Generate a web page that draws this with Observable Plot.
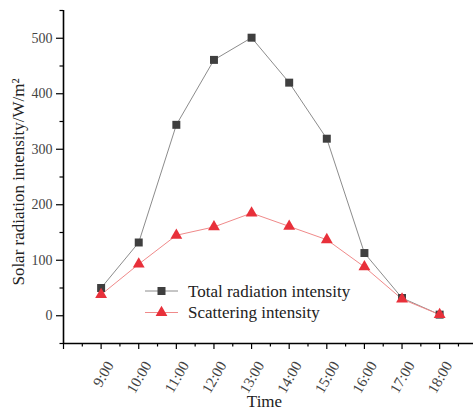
<!DOCTYPE html>
<html><head><meta charset="utf-8">
<script src="https://cdn.jsdelivr.net/npm/d3@7"></script>
<script src="https://cdn.jsdelivr.net/npm/@observablehq/plot@0.6"></script>
<style>
body{margin:0;background:#fff}
#wrap{position:relative;width:473px;height:416px;font-family:"Liberation Serif","DejaVu Serif",serif}
#wrap svg, #wrap svg text{font-family:"Liberation Serif","DejaVu Serif",serif !important}
#wrap g[aria-label="y-axis tick label"]{font-size:14px}
#legend{position:absolute;left:0;top:0}
</style>
</head><body><div id="wrap"></div>
<script>
const times = ["9:00","10:00","11:00","12:00","13:00","14:00","15:00","16:00","17:00","18:00"];
const total = [50,132,344,461,501,420,319,113,32,2];
const scattering = [38,93,145,160,185,161,137,88,30,2];
const yTicks = [0,100,200,300,400,500];
const yMinor = [-50,50,150,250,350,450,550];
const xMajor = [-1,0,1,2,3,4,5,6,7,8,9];
const xMinor = [-0.5,0.5,1.5,2.5,3.5,4.5,5.5,6.5,7.5,8.5,9.5];
const seriesNames = ["Total radiation intensity","Scattering intensity"];

const idx = times.map((t,i)=>i);
const totalData = idx.map(i=>({i, v: total[i]}));
const scatData = idx.map(i=>({i, v: scattering[i]}));

const darkGray = "#3f3f3f", grayLine = "#8c8c8c", red = "#e8303a", redLine = "#f08a8a";
const FF = '"Liberation Serif", serif';

const plot = Plot.plot({
  width: 473, height: 416,
  marginLeft: 63, marginRight: 0, marginTop: 10, marginBottom: 73,
  style: {fontFamily: FF, color: "#333", background: "#fff"},
  x: {domain: [-1, 9.9], axis: null},
  y: {domain: [-50, 550], axis: null},
  marks: [
    Plot.axisY({ticks: yTicks, tickSize: 7, tickPadding: 4, fontSize: 14, fontFamily: FF, label: null, stroke: "#000", strokeWidth: 1.2, fill: "#444"}),
    Plot.axisY({ticks: yMinor, tickSize: 3.5, tickFormat: () => "", label: null, stroke: "#000", strokeWidth: 1.2}),
    Plot.axisX({ticks: xMajor, tickSize: 6, tickFormat: () => "", label: null, stroke: "#000", strokeWidth: 1.2}),
    Plot.axisX({ticks: xMinor, tickSize: 3.5, tickFormat: () => "", label: null, stroke: "#000", strokeWidth: 1.2}),
    Plot.text(idx, {x: d => d, frameAnchor: "bottom", text: d => times[d], rotate: -60, textAnchor: "end", lineAnchor: "middle", dx: 9, dy: 19, fontSize: 15, fontFamily: FF, fill: "#444"}),
    Plot.ruleX([-1], {stroke: "#000", strokeWidth: 1.6}),
    Plot.ruleY([-50], {stroke: "#000", strokeWidth: 1.6}),
    Plot.text(["Solar radiation intensity/W/m²"], {frameAnchor: "left", textAnchor: "middle", rotate: -90, dx: -45, dy: 5, fontSize: 17, fontFamily: FF, fill: "#222"}),
    Plot.text(["Time"], {frameAnchor: "bottom", textAnchor: "middle", dy: 63, dx: -4, fontSize: 17, fontFamily: FF, fill: "#222"}),
    Plot.line(totalData, {x: "i", y: "v", stroke: grayLine, strokeWidth: 1}),
    Plot.line(scatData, {x: "i", y: "v", stroke: redLine, strokeWidth: 1}),
    Plot.dot(totalData, {x: "i", y: "v", symbol: "square", r: 4.5, fill: darkGray, stroke: "none"}),
    Plot.dot(scatData, {x: "i", y: "v", symbol: "triangle", r: 4.4, fill: red, stroke: "none"})
  ]
});
const wrap = document.getElementById("wrap");
wrap.appendChild(plot);

// legend overlay
const lg = d3.select(wrap).append("svg").attr("id","legend").attr("width",473).attr("height",416);
const items = [
  {name: seriesNames[0], line: grayLine, fill: darkGray, sym: d3.symbolSquare, size: 64},
  {name: seriesNames[1], line: redLine, fill: red, sym: d3.symbolTriangle, size: 60}
];
items.forEach((it, k) => {
  const g = lg.append("g").attr("transform", `translate(145,${291 + k*21.5})`);
  g.append("line").attr("x1",0).attr("x2",33).attr("y1",0).attr("y2",0).attr("stroke",it.line).attr("stroke-width",1);
  g.append("path").attr("d", d3.symbol(it.sym, it.size)()).attr("transform","translate(16.5,0)").attr("fill",it.fill);
  g.append("text").attr("x",43).attr("y",0).attr("dy","0.33em").attr("font-size",17)
    .attr("font-family",FF).attr("fill","#222").text(it.name);
});
</script>
</body></html>
